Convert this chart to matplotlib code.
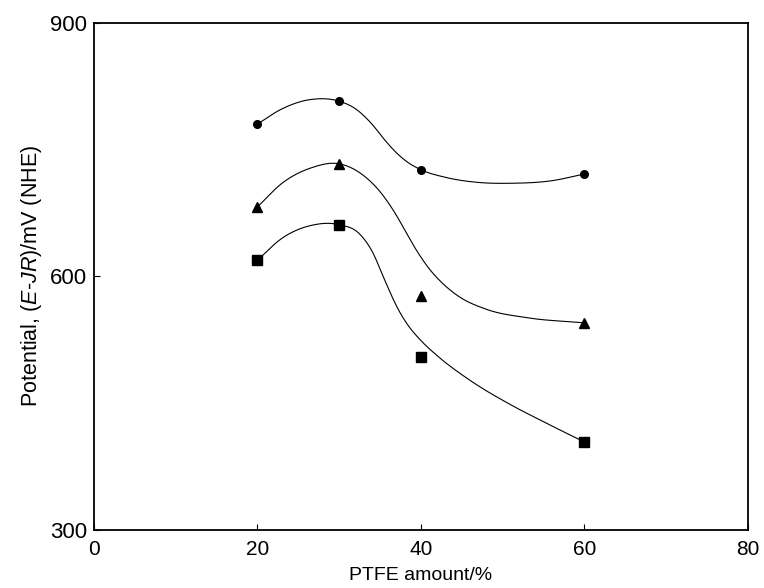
import matplotlib
matplotlib.use("Agg")
import matplotlib.pyplot as plt
import numpy as np

plt.rcParams['font.family'] = ['Liberation Sans', 'DejaVu Sans']
plt.rcParams['mathtext.fontset'] = 'custom'
plt.rcParams['mathtext.rm'] = 'Liberation Sans'
plt.rcParams['mathtext.it'] = 'Liberation Sans:italic'

# measured points
ptfe = [20, 30, 40, 60]
circles = [780, 807, 726, 721]
triangles = [682, 733, 577, 545]
squares = [619, 661, 505, 404]

# hand drawn guide curves
circle_curve_x = [20, 23, 26.5, 30, 32, 34, 35.5, 37, 38.5, 40, 43, 47, 51, 56, 60]
circle_curve_y = [780, 798, 809, 807, 798, 780, 762, 746, 734, 726, 717, 711, 710, 713, 721]
triangle_curve_x = [20, 23, 26.5, 30, 33, 35, 37, 38, 39.5, 41, 42.5, 44.5, 48, 53, 60]
triangle_curve_y = [682, 710, 728, 733, 719, 700, 672, 655, 630, 609, 593, 577, 561, 551, 545]
square_curve_x = [20, 23, 26.5, 30, 32.5, 34, 35.5, 36.5, 37.5, 38.5, 40, 42, 46, 51, 55, 60]
square_curve_y = [619, 645, 660, 661, 650, 630, 597, 575, 556, 541, 524, 506, 477, 448, 428, 404]

x_ticks = [0, 20, 40, 60, 80]
y_ticks = [300, 600, 900]


def smooth(xs, ys, n=30):
    # cubic hermite through the guide points (y as a function of x), for drawing only
    xs = np.asarray(xs, float)
    ys = np.asarray(ys, float)
    h = np.diff(xs)
    d = np.diff(ys) / h
    m = np.empty_like(ys)
    m[0], m[-1] = d[0], d[-1]
    m[1:-1] = (d[:-1] * h[1:] + d[1:] * h[:-1]) / (h[:-1] + h[1:])
    ox, oy = [], []
    for i in range(len(xs) - 1):
        t = np.linspace(0, 1, n, endpoint=False)
        h00 = 2 * t**3 - 3 * t**2 + 1
        h10 = t**3 - 2 * t**2 + t
        h01 = -2 * t**3 + 3 * t**2
        h11 = t**3 - t**2
        ox.append(xs[i] + t * h[i])
        oy.append(h00 * ys[i] + h10 * h[i] * m[i] + h01 * ys[i + 1] + h11 * h[i] * m[i + 1])
    ox.append([xs[-1]])
    oy.append([ys[-1]])
    return np.concatenate(ox), np.concatenate(oy)


fig = plt.figure(figsize=(7.64, 5.88), dpi=100)
ax = fig.add_axes([0.123, 0.0986, 0.856, 0.863])

for cx, cy in [(circle_curve_x, circle_curve_y),
               (triangle_curve_x, triangle_curve_y),
               (square_curve_x, square_curve_y)]:
    sx, sy = smooth(cx, cy)
    ax.plot(sx, sy, color='black', lw=0.8)

ax.plot(ptfe, circles, 'o', color='black', ms=5.5, ls='none')
ax.plot(ptfe, triangles, '^', color='black', ms=7, ls='none')
ax.plot(ptfe, squares, 's', color='black', ms=6.5, ls='none')

ax.set_xlim(0, 80)
ax.set_ylim(300, 900)
ax.set_xticks(x_ticks)
ax.set_yticks(y_ticks)
ax.tick_params(direction='in', length=4, width=0.8, pad=5)
ax.tick_params(axis='y', labelsize=16)
ax.tick_params(axis='x', labelsize=15, pad=7)
for s in ax.spines.values():
    s.set_linewidth(1.3)

ax.set_xlabel('PTFE amount/%', fontsize=14, labelpad=6)
ax.set_ylabel(r'Potential, ($\it{E}$-$\it{JR}$)/mV (NHE)', fontsize=15.5, labelpad=4)

fig.savefig('out.png', dpi=100)
